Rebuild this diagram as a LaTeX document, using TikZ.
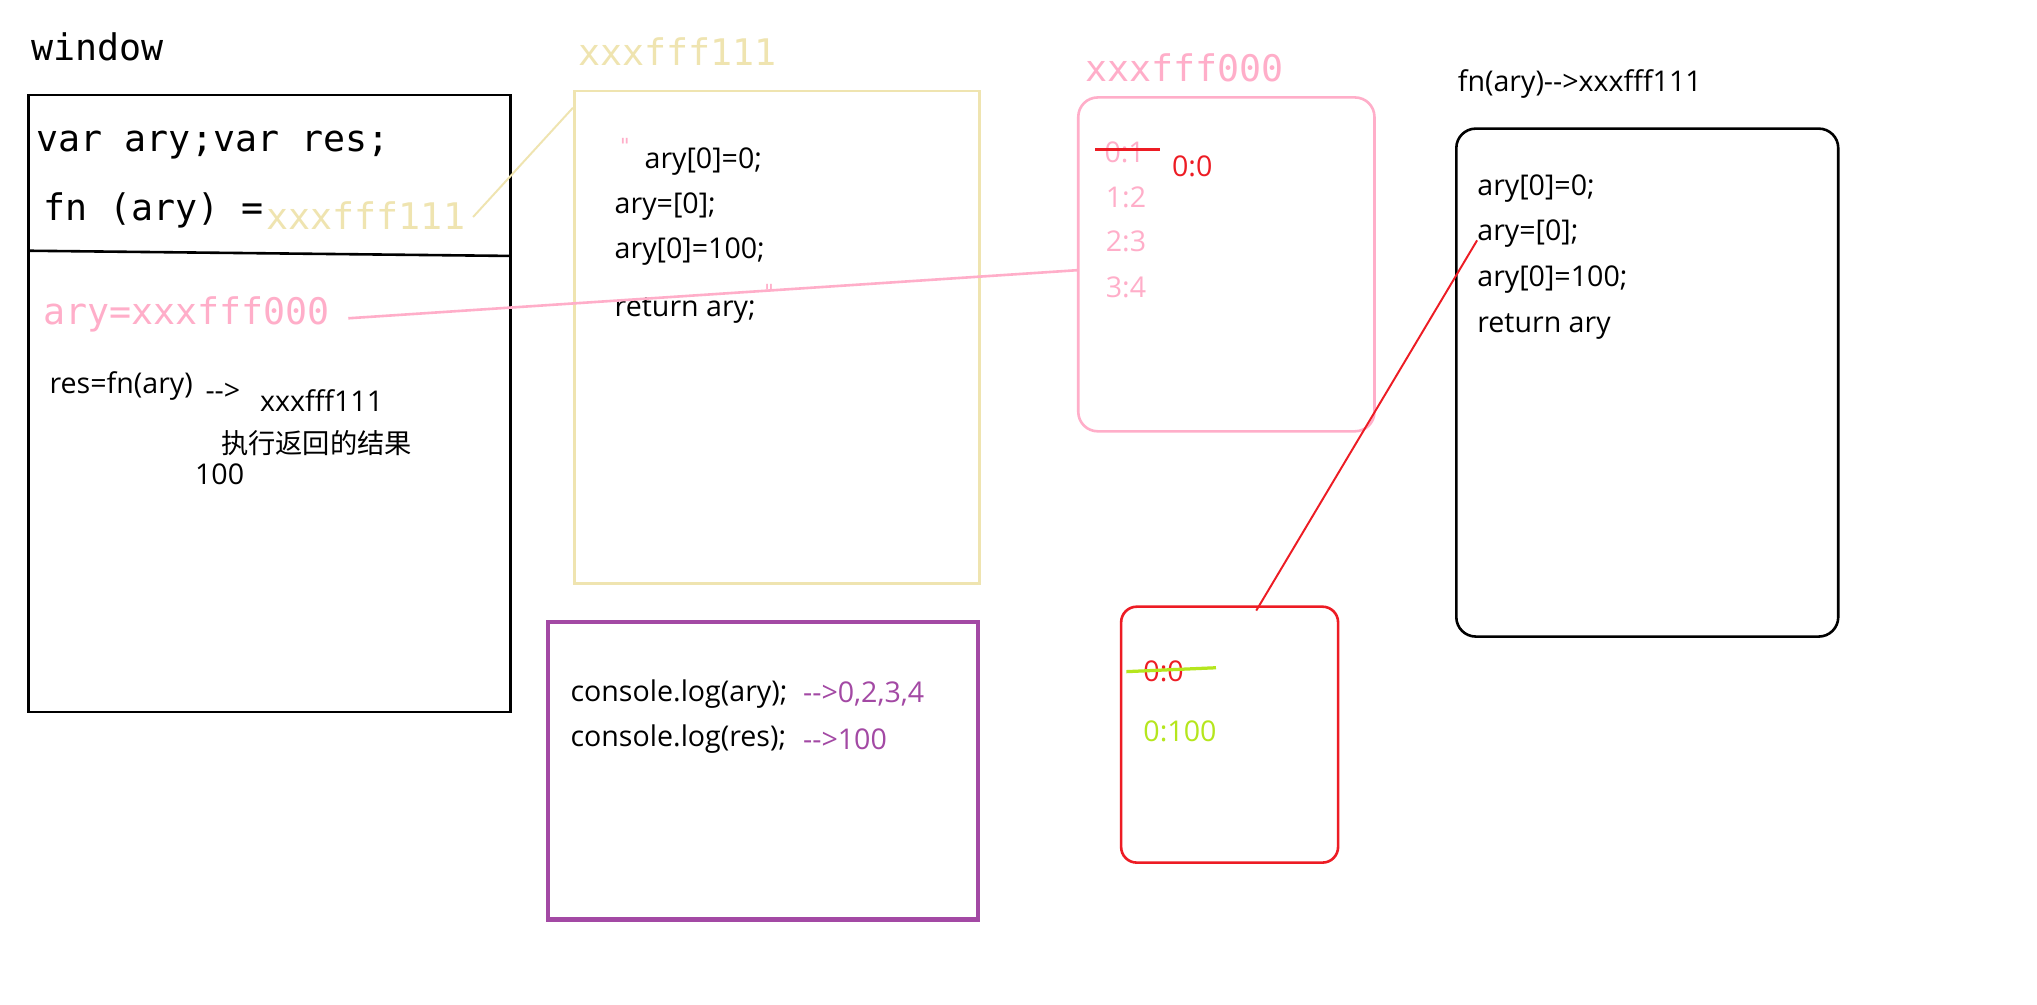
\documentclass[tikz,border=0pt]{standalone}
\usepackage{fontspec}
\setmainfont{Open Sans}
\newfontfamily\cjk{Noto Sans CJK SC}
\newfontfamily\monof{DejaVu Sans Mono}
\usetikzlibrary{calc}
\definecolor{cream}{HTML}{EFE4B0}
\definecolor{rose}{HTML}{FFAEC9}
\definecolor{pred}{HTML}{ED1C24}
\definecolor{lime}{HTML}{B5E61D}
\definecolor{purp}{HTML}{A349A4}
\begin{document}
\begin{tikzpicture}[x=1pt,y=-1pt,
  txt/.style={anchor=west, inner sep=0pt, font=\fontsize{22}{22}\selectfont},
  big/.style={anchor=west, inner sep=0pt, font=\monof\fontsize{28.2}{28.2}\selectfont},
  box/.style={draw, anchor=north west, inner sep=0pt, line width=2pt},
  rbox/.style={box, rounded corners=15pt},
  strike/.style={line width=2.5pt},
  quote/.style={txt, rose, font=\monof\fontsize{16}{16}\selectfont},
]
\useasboundingbox[fill=white] (0,0) rectangle (1568,773);

% window
\node[big] (wtitle) at (24,36) {window};
\node[box, minimum width=371pt, minimum height=475pt] (win) at (21,72) {};
\draw[line width=2pt] (21,193) -- (392,197);
\node[big] (vars) at (28,112) {var ary;var res;};
\node[big] (fn) at (33,162) {fn (ary) =};
\node[big, cream] (fnaddr) at (205,166) {xxxfff111};
\node[big, rose] (aryaddr) at (33,242) {ary=xxxfff000};
\node[txt] (res) at (38,297) {res=fn(ary)};
\node[txt] (arr1) at (158,302) {-{}->};
\node[txt] (resaddr) at (200,308) {xxxfff111};
\node[txt, font=\cjk\fontsize{21}{21}\selectfont] (resnote) at (170,341) {执行返回的结果};
\node[txt] (resval) at (150,365) {100};

% yellow heap
\node[big, cream] (ytitle) at (445,40) {xxxfff111};
\node[box, cream, minimum width=312pt, minimum height=379pt] (ybox) at (441,69) {};
\node[quote] (q1) at (476,112) {"};
\node[txt] (y1) at (496,124) {ary[0]=0;};
\node[txt] (y2) at (473,159) {ary=[0];};
\node[txt] (y3) at (473,194) {ary[0]=100;};
\node[txt] (y4) at (473,239) {return ary;};
\node[quote] (q2) at (587,225) {"};

% pink heap
\node[big, rose] (ptitle) at (835,52) {xxxfff000};
\node[rbox, rose, minimum width=228pt, minimum height=257pt] (pbox) at (829,74) {};
\node[txt, rose] (p1) at (850,117) {0:1};
\draw[pred, strike] (843,115) -- (893,115);
\node[txt, pred] (p1b) at (902,128) {0:0};
\node[txt, rose] (p2) at (851,152) {1:2};
\node[txt, rose] (p3) at (851,186) {2:3};
\node[txt, rose] (p4) at (851,221) {3:4};

% black function box
\node[txt] (btitle) at (1122,65) {fn(ary)-{}->xxxfff111};
\node[rbox, minimum width=294pt, minimum height=391pt] (bbox) at (1120,98) {};
\node[txt] (b1) at (1137,145) {ary[0]=0;};
\node[txt] (b2) at (1137,180) {ary=[0];};
\node[txt] (b3) at (1137,215) {ary[0]=100;};
\node[txt] (b4) at (1137,251) {return ary};

% red heap
\node[rbox, pred, minimum width=167pt, minimum height=197pt, rounded corners=12pt] (rbox) at (862,466) {};
\node[txt, pred] (r1) at (880,517) {0:0};
\draw[lime, strike] (867,517) -- (936,514);
\node[txt, lime] (r2) at (880,563) {0:100};

% purple console box
\node[box, purp, line width=3.5pt, minimum width=331pt, minimum height=229pt] (cbox) at (420,477) {};
\node[txt] (c1) at (439,534) {console.log(ary);};
\node[txt, purp] (c1r) at (618,534) {-{}->0,2,3,4};
\node[txt] (c2) at (439,569) {console.log(res);};
\node[txt, purp] (c2r) at (618,569) {-{}->100};

% connectors
\coordinate (yin) at (441,83);
\coordinate (pin) at (829,208);
\coordinate (rin) at (967,470);
\draw[cream, line width=1.5pt] ($(fnaddr.east)+(6,1)$) -- (yin);
\draw[rose, line width=2pt] ($(aryaddr.east)+(14,3)$) -- (pin);
\draw[pred, line width=1.5pt] ($(b2.west)+(0,5)$) -- (rin);
\end{tikzpicture}
\end{document}
